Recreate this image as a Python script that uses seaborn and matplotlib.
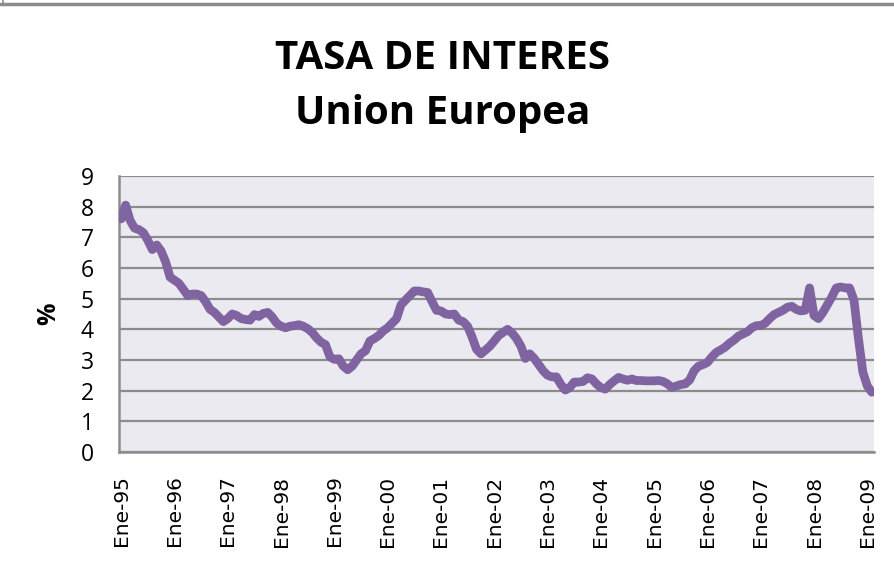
import matplotlib
matplotlib.use("Agg")
import matplotlib.pyplot as plt
from matplotlib.lines import Line2D
import numpy as np
import pandas as pd
import seaborn as sns

# ---------------------------------------------------------------------------
# Data: monthly interest rate, Jan-1995 .. Feb-2009
# ---------------------------------------------------------------------------

tasa = [
    # 1995
    7.6, 8.05, 7.55, 7.3, 7.25, 7.15, 6.9, 6.6, 6.75, 6.55, 6.2, 5.7,
    # 1996
    5.6, 5.5, 5.3, 5.1, 5.15, 5.15, 5.1, 4.9, 4.65, 4.55, 4.4, 4.25,
    # 1997
    4.35, 4.5, 4.45, 4.35, 4.32, 4.3, 4.48, 4.42, 4.52, 4.55, 4.4, 4.2,
    # 1998
    4.1, 4.05, 4.1, 4.12, 4.15, 4.1, 4.02, 3.9, 3.72, 3.58, 3.5, 3.1,
    # 1999
    3.02, 3.04, 2.8, 2.68, 2.8, 3.0, 3.2, 3.3, 3.62, 3.7, 3.8, 3.95,
    # 2000
    4.05, 4.2, 4.35, 4.8, 4.95, 5.1, 5.25, 5.25, 5.22, 5.2, 4.9, 4.62,
    # 2001
    4.6, 4.5, 4.48, 4.5, 4.3, 4.25, 4.1, 3.75, 3.35, 3.2, 3.32, 3.45,
    # 2002
    3.62, 3.8, 3.9, 4.0, 3.88, 3.7, 3.45, 3.05, 3.2, 3.05, 2.85, 2.65,
    # 2003
    2.5, 2.45, 2.45, 2.2, 2.02, 2.1, 2.28, 2.28, 2.3, 2.42, 2.38, 2.22,
    # 2004
    2.1, 2.05, 2.2, 2.32, 2.43, 2.38, 2.34, 2.38, 2.33, 2.33, 2.32, 2.32,
    # 2005
    2.32, 2.33, 2.3, 2.22, 2.1, 2.15, 2.2, 2.22, 2.35, 2.65, 2.8, 2.85,
    # 2006
    2.92, 3.1, 3.25, 3.33, 3.42, 3.55, 3.65, 3.78, 3.85, 3.92, 4.05, 4.12,
    # 2007
    4.12, 4.2, 4.35, 4.48, 4.55, 4.62, 4.72, 4.75, 4.65, 4.6, 4.62, 5.35,
    # 2008
    4.45, 4.35, 4.55, 4.8, 5.05, 5.35, 5.38, 5.35, 5.35, 4.95, 3.7, 2.6,
    # 2009
    2.15, 1.95,
]

etiquetas_x = [
    "Ene-95", "Ene-96", "Ene-97", "Ene-98", "Ene-99", "Ene-00", "Ene-01",
    "Ene-02", "Ene-03", "Ene-04", "Ene-05", "Ene-06", "Ene-07", "Ene-08",
    "Ene-09",
]
valores_y = [0, 1, 2, 3, 4, 5, 6, 7, 8, 9]

titulo = "TASA DE INTERES\nUnion Europea"

df = pd.DataFrame({"mes": np.arange(len(tasa)), "tasa": tasa})

# ---------------------------------------------------------------------------
# Figure
# ---------------------------------------------------------------------------

sns.set_style("white")
fig = plt.figure(figsize=(8.94, 5.8), dpi=100)
ax = fig.add_axes([0.1331, 0.2207, 0.9776 - 0.1331, 0.6966 - 0.2207])
ax.set_facecolor("#EBEAF0")

sns.lineplot(data=df, x="mes", y="tasa", ax=ax, color="#8064A2",
             linewidth=6.3, solid_capstyle="round", solid_joinstyle="round",
             zorder=3)

ax.set_xlim(-0.5, len(tasa) - 0.5)
ax.set_ylim(0, 9)
ax.set_yticks(valores_y)
ax.set_yticklabels([str(v) for v in valores_y], fontsize=16.5,
                   family="Open Sans", color="black")
ax.set_xticks(np.arange(len(etiquetas_x)) * 12)
ax.set_xticklabels(etiquetas_x, rotation=90, fontsize=14.5,
                   family="DejaVu Sans", color="black")
ax.tick_params(axis="y", length=0, pad=18)
ax.tick_params(axis="x", length=0, pad=17)

ax.grid(axis="y", color="#8C8C8C", linewidth=1.6, zorder=1)
ax.grid(axis="x", visible=False)
ax.set_axisbelow(True)

for side in ["top", "right"]:
    ax.spines[side].set_visible(False)
for side in ["left", "bottom"]:
    ax.spines[side].set_color("#8C8C8C")
    ax.spines[side].set_linewidth(1.8)

ax.set_xlabel("")
ax.set_ylabel("%", fontsize=18, fontweight="bold", family="Open Sans",
              color="black")
ax.yaxis.set_label_coords(-0.077, 0.5)

fig.text(0.495, 0.852, titulo, ha="center", va="center", fontsize=29,
         fontweight="bold", family="Open Sans", color="black", linespacing=1.55)

# the chart-area frame that is cut off at the top
fig.add_artist(Line2D([0, 1], [0.9925, 0.9925], color="#8C8C8C", linewidth=2.5,
                      transform=fig.transFigure))
fig.add_artist(Line2D([0.003, 0.003], [0.9925, 1.0], color="#8C8C8C", linewidth=1.2,
                      transform=fig.transFigure))

fig.savefig("out.png", dpi=100)
